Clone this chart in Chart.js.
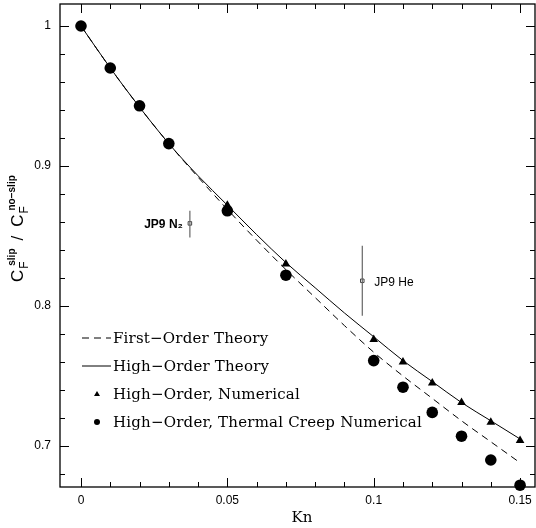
<!DOCTYPE html>
<html>
<head>
<meta charset="utf-8">
<script src="https://cdn.jsdelivr.net/npm/chart.js@4.4.1/dist/chart.umd.min.js"></script>
<style>
  body { margin: 0; background: #fff; }
  canvas { display: block; }
</style>
</head>
<body>
<canvas id="myChart" width="536" height="528"></canvas>
<script>
// theory curves, sampled every 0.01 in Kn
const knTheory = [0, 0.01, 0.02, 0.03, 0.04, 0.05, 0.06, 0.07, 0.08, 0.09, 0.10, 0.11, 0.12, 0.13, 0.14, 0.15];
const firstOrder = [1.0, 0.970, 0.942, 0.916, 0.892, 0.869, 0.847, 0.826, 0.806, 0.786, 0.767, 0.750, 0.734, 0.718, 0.703, 0.688];
const highOrder = [1.0, 0.970, 0.942, 0.916, 0.893, 0.872, 0.851, 0.831, 0.813, 0.795, 0.778, 0.761, 0.746, 0.731, 0.718, 0.705];

// numerical results
const knNumerical = [0.05, 0.07, 0.10, 0.11, 0.12, 0.13, 0.14, 0.15];
const highOrderNum = [0.872, 0.830, 0.776, 0.760, 0.745, 0.731, 0.717, 0.704];
const knCreep = [0, 0.01, 0.02, 0.03, 0.05, 0.07, 0.10, 0.11, 0.12, 0.13, 0.14, 0.15];
const thermalCreepNum = [1.0, 0.970, 0.943, 0.916, 0.868, 0.822, 0.761, 0.742, 0.724, 0.707, 0.690, 0.672];

// JP9 measurements
const jp9Labels = ['JP9 N\u2082', 'JP9 He'];
const jp9Kn = [0.0372, 0.0961];
const jp9Val = [0.859, 0.818];
const jp9Low = [0.849, 0.793];
const jp9High = [0.868, 0.843];

const xTicks = [0, 0.05, 0.1, 0.15];
const yTicks = [0.7, 0.8, 0.9, 1];

const toXY = (xs, ys) => xs.map((x, i) => ({ x: x, y: ys[i] }));

const datasets = [
    {
        label: 'First\u2212Order Theory',
        data: toXY(knTheory, firstOrder),
        showLine: true, borderColor: '#000', borderWidth: 1, borderDash: [7, 5],
        pointRadius: 0, cubicInterpolationMode: 'monotone', legendType: 'dash'
    },
    {
        label: 'High\u2212Order Theory',
        data: toXY(knTheory, highOrder),
        showLine: true, borderColor: '#000', borderWidth: 1,
        pointRadius: 0, cubicInterpolationMode: 'monotone', legendType: 'line'
    },
    {
        label: 'High\u2212Order, Numerical',
        data: toXY(knNumerical, highOrderNum),
        showLine: false, pointStyle: 'triangle', pointRadius: 5,
        backgroundColor: '#000', borderColor: '#000', borderWidth: 0, legendType: 'triangle'
    },
    {
        label: 'High\u2212Order, Thermal Creep Numerical',
        data: toXY(knCreep, thermalCreepNum),
        showLine: false, pointStyle: 'circle', pointRadius: 5.8,
        backgroundColor: '#000', borderColor: '#000', borderWidth: 0, legendType: 'circle'
    }
];

// error bars for the JP9 measurements
jp9Kn.forEach((k, i) => {
    datasets.push({
        label: '',
        data: [{ x: k, y: jp9Low[i] }, { x: k, y: jp9High[i] }],
        showLine: true, borderColor: '#666', borderWidth: 1.2, pointRadius: 0
    });
    datasets.push({
        label: '',
        data: [{ x: k, y: jp9Val[i] }],
        pointStyle: 'rect', pointRadius: 2.5, borderColor: '#444', borderWidth: 1,
        backgroundColor: '#fff'
    });
});

const frame = {
    id: 'frame',
    afterDraw(chart) {
        const ctx = chart.ctx;
        const a = chart.chartArea;
        const xs = chart.scales.x, ys = chart.scales.y;
        ctx.save();
        ctx.strokeStyle = '#000';
        ctx.lineWidth = 1.3;
        ctx.strokeRect(a.left, a.top, a.right - a.left, a.bottom - a.top);

        // inward ticks on all four sides
        ctx.lineWidth = 1;
        ctx.beginPath();
        for (let i = 0; i <= 15; i++) {
            const v = i / 100;
            const px = Math.round(xs.getPixelForValue(v)) + 0.5;
            const len = (i % 5 === 0) ? 9 : 5;
            ctx.moveTo(px, a.bottom); ctx.lineTo(px, a.bottom - len);
            ctx.moveTo(px, a.top); ctx.lineTo(px, a.top + len);
        }
        for (let i = 0; i <= 17; i++) {
            const v = 0.68 + i * 0.02;
            if (v > ys.max) break;
            const py = Math.round(ys.getPixelForValue(v)) + 0.5;
            const len = (Math.round(v * 100) % 10 === 0) ? 9 : 5;
            ctx.moveTo(a.left, py); ctx.lineTo(a.left + len, py);
            ctx.moveTo(a.right, py); ctx.lineTo(a.right - len, py);
        }
        ctx.stroke();

        // legend inside the plot
        const rows = [338, 366, 394, 422];
        ctx.font = '15px "DejaVu Serif"';
        ctx.letterSpacing = '0.2px';
        ctx.textBaseline = 'middle';
        ctx.fillStyle = '#000';
        datasets.slice(0, 4).forEach((ds, i) => {
            const y = rows[i];
            ctx.beginPath();
            ctx.strokeStyle = '#000';
            ctx.lineWidth = 1;
            if (ds.legendType === 'dash') {
                ctx.setLineDash([7, 5]);
                ctx.moveTo(82, y); ctx.lineTo(111, y); ctx.stroke();
                ctx.setLineDash([]);
            } else if (ds.legendType === 'line') {
                ctx.moveTo(82, y); ctx.lineTo(111, y); ctx.stroke();
            } else if (ds.legendType === 'triangle') {
                ctx.moveTo(97, y - 3); ctx.lineTo(100, y + 2); ctx.lineTo(94, y + 2); ctx.closePath(); ctx.fill();
            } else {
                ctx.arc(97, y, 3, 0, Math.PI * 2); ctx.fill();
            }
            ctx.fillText(ds.label, 113, y + 1);
        });
        ctx.letterSpacing = '0px';

        // JP9 labels
        ctx.font = 'bold 12px "Liberation Sans"';
        ctx.textAlign = 'right';
        ctx.fillText(jp9Labels[0], xs.getPixelForValue(jp9Kn[0]) - 7, ys.getPixelForValue(jp9Val[0]) + 1);
        ctx.font = '12px "Liberation Sans"';
        ctx.textAlign = 'left';
        ctx.fillText(jp9Labels[1], xs.getPixelForValue(jp9Kn[1]) + 12, ys.getPixelForValue(jp9Val[1]) + 2);

        // x axis title
        ctx.font = '15px "DejaVu Serif"';
        ctx.textAlign = 'center';
        ctx.textBaseline = 'alphabetic';
        ctx.fillText('Kn', 302, 522);

        // y axis title: C_F^slip / C_F^no-slip
        ctx.translate(23, 282);
        ctx.rotate(-Math.PI / 2);
        ctx.textAlign = 'left';
        let x = 0;
        const part = (big, sub, sup) => {
            ctx.font = '17px "Liberation Sans"';
            ctx.fillText(big, x, 0);
            x += ctx.measureText(big).width + 1;
            ctx.font = '12px "Liberation Sans"';
            ctx.fillText(sub, x, 5);
            const w1 = ctx.measureText(sub).width;
            ctx.font = 'bold 10px "Liberation Sans"';
            ctx.fillText(sup, x + 3, -8);
            const w2 = ctx.measureText(sup).width + 3;
            x += Math.max(w1, w2);
        };
        part('C', 'F', 'slip');
        ctx.font = '17px "Liberation Sans"';
        x += 8;
        ctx.fillText('/', x, 0);
        x += ctx.measureText('/').width + 9;
        part('C', 'F', 'no\u2212slip');
        ctx.restore();
    }
};

new Chart(document.getElementById('myChart').getContext('2d'), {
    type: 'scatter',
    data: { datasets: datasets },
    options: {
        responsive: false,
        animation: false,
        layout: { autoPadding: false, padding: { top: 4, right: 1, left: 0, bottom: 0 } },
        elements: { point: { hoverRadius: 0 } },
        datasets: { scatter: { clip: false } },
        plugins: { legend: { display: false }, tooltip: { enabled: false } },
        scales: {
            x: {
                type: 'linear',
                min: -0.00717, max: 0.1551,
                afterFit: s => { s.height = 41; s.paddingLeft = 0; s.paddingRight = 0; },
                afterBuildTicks: s => { s.ticks = xTicks.map(v => ({ value: v })); },
                grid: { display: false, drawTicks: false },
                border: { display: false },
                ticks: {
                    padding: 6, color: '#000', maxRotation: 0,
                    font: { family: 'Liberation Sans', size: 12 },
                    callback: v => String(v)
                }
            },
            y: {
                type: 'linear',
                min: 0.6707, max: 1.0157,
                afterFit: s => { s.width = 60; s.paddingTop = 0; s.paddingBottom = 0; },
                afterBuildTicks: s => { s.ticks = yTicks.map(v => ({ value: v })); },
                grid: { display: false, drawTicks: false },
                border: { display: false },
                ticks: {
                    padding: 9, color: '#000',
                    font: { family: 'Liberation Sans', size: 12 },
                    callback: v => String(v)
                }
            }
        }
    },
    plugins: [frame]
});
</script>
</body>
</html>
